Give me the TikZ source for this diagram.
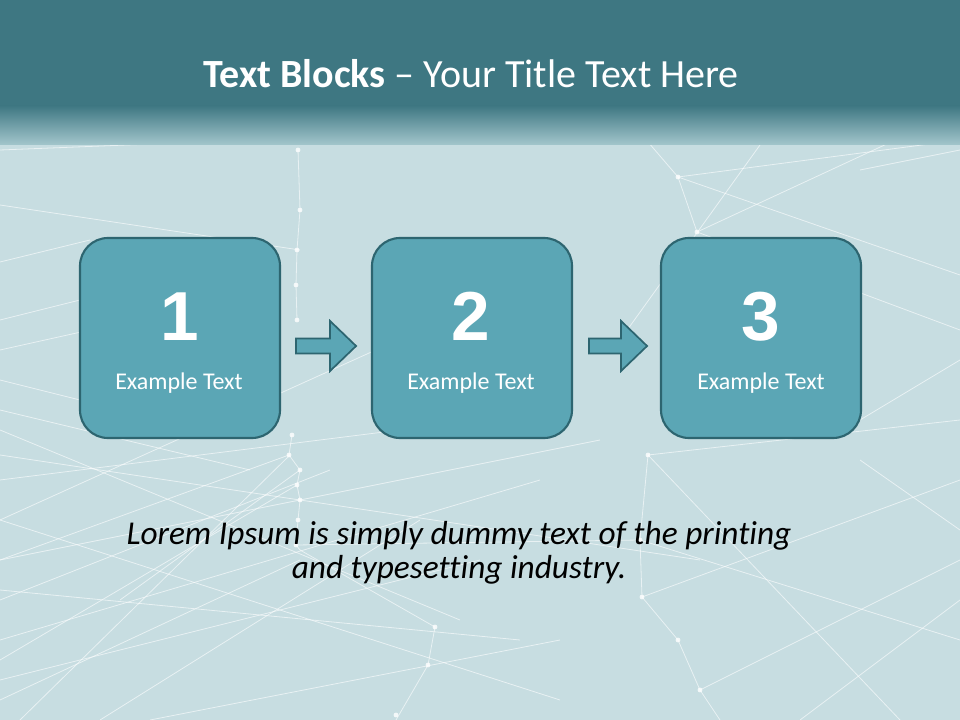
\documentclass[tikz,border=0pt]{standalone}
\usepackage{fontspec}
\setmainfont{Carlito}[Ligatures=NoCommon]
\newfontfamily\digitfont{Liberation Sans}
\usetikzlibrary{calc}
\definecolor{bodybg}{HTML}{C7DDE1}
\definecolor{headbg}{HTML}{3E7782}
\definecolor{headlight}{HTML}{A3C6CC}
\definecolor{boxfill}{HTML}{5BA6B5}
\definecolor{boxline}{HTML}{2D6570}
\tikzset{
  netline/.style={white, opacity=0.6, line width=0.6pt},
  netdot/.style={white, opacity=0.8},
  blockbox/.style={draw=boxline, fill=boxfill, line width=1.6pt, rounded corners=21pt,
    minimum width=150pt, minimum height=150pt, inner sep=0pt},
  digitlabel/.style={text=white, font=\digitfont\bfseries\fontsize{52}{56}\selectfont, anchor=base, inner sep=0pt},
  blocklabel/.style={text=white, font=\fontsize{18}{21}\selectfont, anchor=base, inner sep=0pt},
  blockarrow/.style={draw=boxline, fill=boxfill, line width=1.3pt, line join=miter},
}
\begin{document}
\begin{tikzpicture}[x=0.75pt,y=-0.75pt]
\useasboundingbox (0,0) rectangle (960,720);
\fill[bodybg] (0,0) rectangle (960,720);
% background network lines
\foreach \a/\b in {
  {0,150}/{380,135}, {0,205}/{300,250}, {0,262}/{90,240}, {0,380}/{80,400},
  {0,480}/{560,410}, {0,520}/{420,330}, {0,560}/{600,440}, {0,600}/{330,470},
  {0,640}/{540,480}, {0,700}/{300,560}, {0,430}/{460,620}, {0,455}/{700,560},
  {0,520}/{560,700}, {20,720}/{290,455}, {100,720}/{420,520}, {0,320}/{80,300},
  {300,550}/{435,627}, {435,627}/{428,665}, {428,665}/{396,720},
  {648,455}/{640,540}, {640,540}/{642,597}, {642,597}/{678,640}, {678,640}/{700,690}, {700,690}/{720,720},
  {648,142}/{678,177}, {678,177}/{697,232}, {678,177}/{960,140}, {678,177}/{960,275},
  {697,232}/{960,110}, {697,232}/{960,330}, {760,145}/{620,340}, {860,170}/{960,150},
  {860,420}/{960,360}, {648,455}/{960,420}, {648,455}/{900,720}, {700,690}/{960,560},
  {640,540}/{960,640}, {642,597}/{960,480}, {860,460}/{960,530}, {800,720}/{960,600},
  {298,150}/{300,210}, {300,210}/{297,250}, {297,250}/{296,285}, {296,285}/{297,320},
  {292,435}/{289,455}, {289,455}/{300,470}, {300,470}/{297,485}, {297,485}/{300,500},
  {300,500}/{298,520}, {298,520}/{296,545}, {296,545}/{300,550}, {289,455}/{0,560},
  {300,470}/{120,600}, {297,485}/{0,660}, {296,545}/{640,540}, {0,590}/{520,640},
  {0,680}/{480,560}, {150,720}/{560,640}, {0,410}/{250,470}, {0,350}/{90,330}}
  {\draw[netline] (\a) -- (\b);}
\foreach \p in {{298,150},{300,210},{297,250},{296,285},{297,320},{292,435},{289,455},
  {300,470},{297,485},{300,500},{298,520},{296,545},{435,627},{428,665},{396,715},
  {648,455},{640,540},{642,597},{678,640},{700,690},{648,142},{678,177},{697,232}}
  {\fill[netdot] (\p) circle (2.4);}
% header band
\fill[headbg] (0,0) rectangle (960,106);
\shade[top color=headbg, bottom color=headlight] (0,105.5) rectangle (960,145);
\node[text=white, anchor=base, inner sep=0pt, font=\fontsize{30}{36}\selectfont] (title) at (471,88)
  {\textbf{Text Blocks} -- Your Title Text Here};
% blocks
\node[blockbox] (b1) at (180,338) {};
\node[blockbox] (b2) at (472,338) {};
\node[blockbox] (b3) at (761,338) {};
\node[digitlabel] (d1) at (180,340) {1};
\node[digitlabel] (d2) at (471,340) {2};
\node[digitlabel] (d3) at (761,340) {3};
\node[blocklabel] (t1) at (179,389) {Example Text};
\node[blocklabel] (t2) at (471,389) {Example Text};
\node[blocklabel] (t3) at (761,389) {Example Text};
% block arrows
\draw[blockarrow] ($(b1.east)+(15,0.5)$) -- ++(34,0) -- ++(0,-17.5) -- ++(26,25)
  -- ++(-26,25) -- ++(0,-17.5) -- ++(-34,0) -- cycle;
\draw[blockarrow] ($(b2.east)+(16,0.5)$) -- ++(32,0) -- ++(0,-17.5) -- ++(26,25)
  -- ++(-26,25) -- ++(0,-17.5) -- ++(-32,0) -- cycle;
% caption
\node[anchor=base, inner sep=0pt, font=\itshape\fontsize{25}{28}\selectfont] (cap1) at (459,544)
  {Lorem Ipsum is simply dummy text of the printing};
\node[anchor=base, inner sep=0pt, font=\itshape\fontsize{25}{28}\selectfont] (cap2) at (459,578)
  {and typesetting industry.};
\end{tikzpicture}
\end{document}
